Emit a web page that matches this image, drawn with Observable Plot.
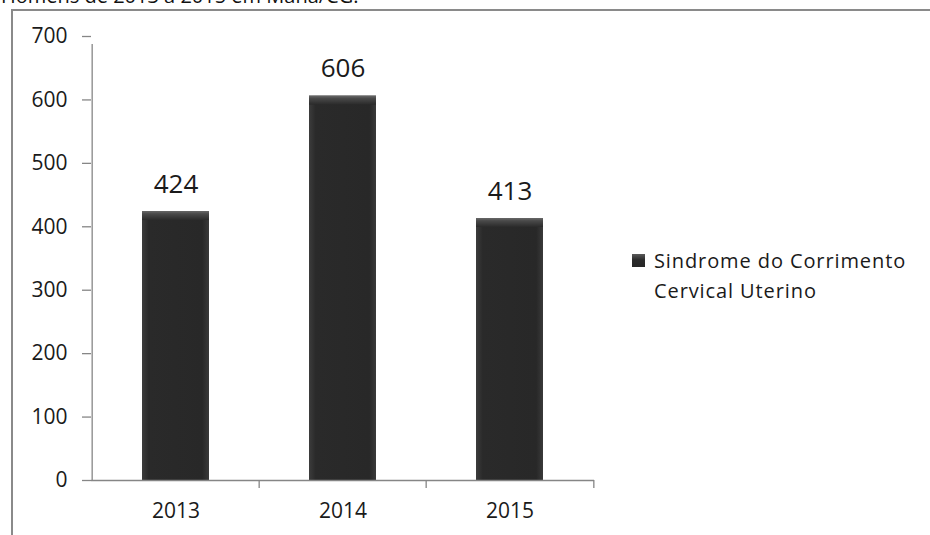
<!DOCTYPE html>
<html>
<head>
<meta charset="utf-8">
<script src="https://cdn.jsdelivr.net/npm/d3@7"></script>
<script src="https://cdn.jsdelivr.net/npm/@observablehq/plot@0.6"></script>
<style>
  html, body { margin: 0; padding: 0; background: #ffffff; }
  #wrap { position: relative; width: 930px; height: 535px; overflow: hidden; font-family: "Open Sans", sans-serif; color: #1a1a1a; }
  #title { position: absolute; left: 1px; top: -14px; font-size: 20px; line-height: 20px; white-space: nowrap; color: #111; }
  #frame { position: absolute; left: 11px; top: 9px; width: 940px; height: 540px; border-left: 2px solid #8a8a8a; border-top: 2px solid #8a8a8a; }
  #chart { position: absolute; left: 0; top: 0; }
  #legend { position: absolute; left: 632px; top: 246px; font-size: 20px; line-height: 30px; letter-spacing: 0.9px; color: #1a1a1a; }
  #legend .sw { position: absolute; left: 0; top: 8px; width: 13px; height: 13px; background: linear-gradient(180deg, #5a5a5a 0%, #2b2b2b 45%, #262626 100%); }
  #legend .tx { margin-left: 22px; }
</style>
</head>
<body>
<div id="wrap">
  <div id="title">Homens de 2013 a 2015 em Mana/CG.</div>
  <div id="frame"></div>
  <div id="chart"></div>
  <div id="legend"><div class="sw"></div><div class="tx">Sindrome do Corrimento<br>Cervical Uterino</div></div>
</div>
<script>
const years = ["2013", "2014", "2015"];
const values = [424, 606, 413];
const yTicks = [0, 100, 200, 300, 400, 500, 600, 700];
const seriesName = "Sindrome do Corrimento Cervical Uterino";

const data = years.map((y, i) => ({year: y, value: values[i]}));

const W = 930, H = 535, mL = 91, mR = 336, mT = 36, mB = 55;
const step = (W - mL - mR) / years.length;
const axisColor = "#868686";

const plot = Plot.plot({
  width: W,
  height: H,
  marginLeft: mL,
  marginRight: mR,
  marginTop: mT,
  marginBottom: mB,
  style: {fontFamily: "Open Sans, sans-serif", color: "#1a1a1a", background: "transparent"},
  x: {domain: years, paddingInner: 0.6, paddingOuter: 0.3, label: null},
  y: {domain: [0, 700], label: null},
  marks: [
    Plot.barY(data, {x: "year", y: "value", fill: "url(#barGrad)"}),
    Plot.barY(data, {x: "year", y1: "value", y2: "value", insetBottom: -9, fill: "url(#bevelGrad)"}),
    Plot.ruleY([0], {stroke: axisColor, strokeWidth: 1.3}),
    Plot.ruleX([years[0]], {x: d => d, y1: 0, y2: 700, insetBottom: -8, dx: -step / 2, stroke: axisColor, strokeWidth: 1.3}),
    Plot.ruleX(years.slice(1), {x: d => d, y1: 0, y2: 0, insetBottom: -8, dx: -step / 2, stroke: axisColor, strokeWidth: 1.3}),
    Plot.ruleX([years[years.length - 1]], {x: d => d, y1: 0, y2: 0, insetBottom: -8, dx: step / 2, stroke: axisColor, strokeWidth: 1.3}),
    Plot.axisY({ticks: yTicks, tickSize: 9, tickPadding: 15, fontSize: 21, stroke: axisColor, strokeWidth: 1.3, label: null}),
    Plot.axisX({tickSize: 0, tickPadding: 23, fontSize: 21, label: null}),
    Plot.text(data, {x: "year", y: "value", text: d => String(d.value), fontSize: 26, lineAnchor: "bottom", dy: -19, fill: "#1a1a1a"})
  ]
});

const svg = d3.select(plot);
const defs = svg.insert("defs", ":first-child");
const g1 = defs.append("linearGradient").attr("id", "barGrad").attr("x1", 0).attr("x2", 1).attr("y1", 0).attr("y2", 0);
g1.append("stop").attr("offset", "0%").attr("stop-color", "#3c3c3c");
g1.append("stop").attr("offset", "10%").attr("stop-color", "#2a2a2a");
g1.append("stop").attr("offset", "90%").attr("stop-color", "#282828");
g1.append("stop").attr("offset", "100%").attr("stop-color", "#3a3a3a");
const g2 = defs.append("linearGradient").attr("id", "bevelGrad").attr("x1", 0).attr("x2", 0).attr("y1", 0).attr("y2", 1);
g2.append("stop").attr("offset", "0%").attr("stop-color", "#6a6a6a");
g2.append("stop").attr("offset", "30%").attr("stop-color", "#4a4a4a");
g2.append("stop").attr("offset", "100%").attr("stop-color", "#2a2a2a");

document.getElementById("chart").appendChild(plot);
</script>
</body>
</html>
